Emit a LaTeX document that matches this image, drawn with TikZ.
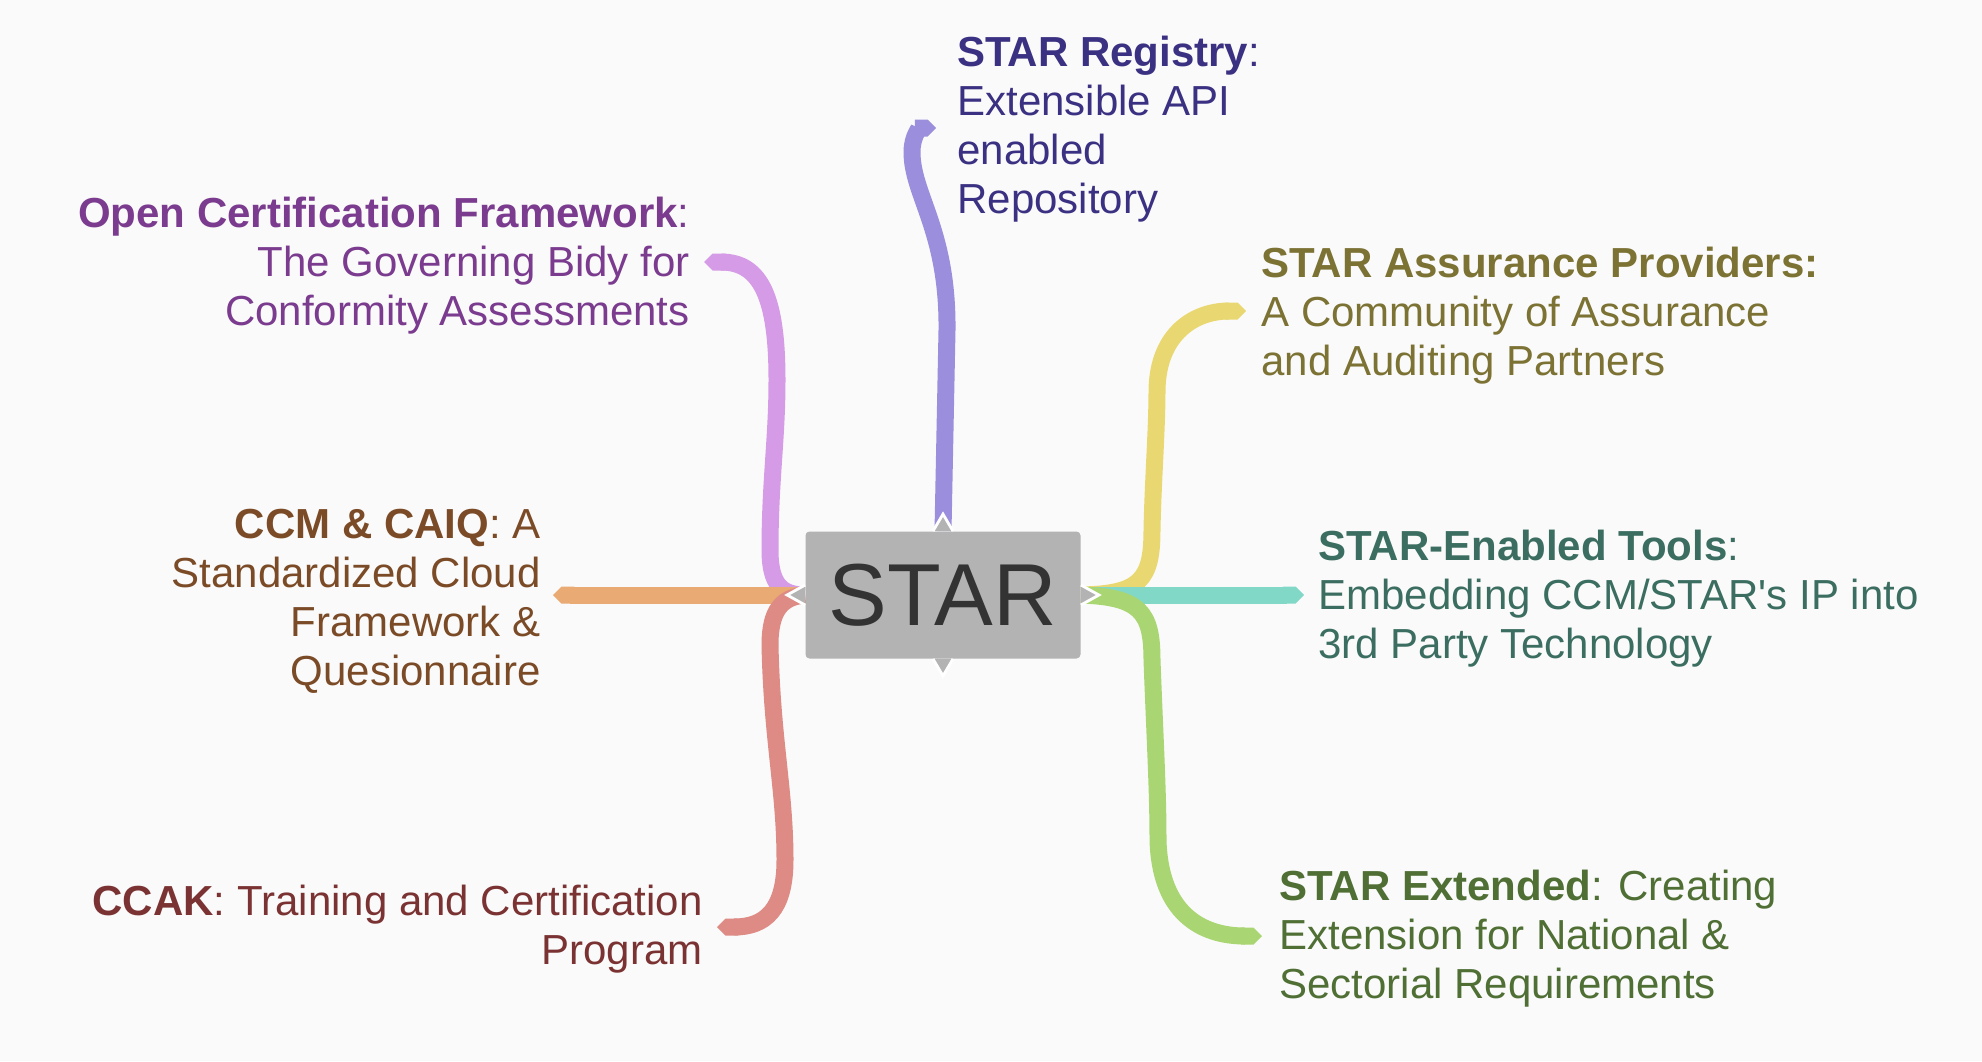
\documentclass[tikz,border=0pt]{standalone}
\usepackage{fontspec}
\setmainfont{Liberation Sans}
\usetikzlibrary{arrows.meta}
\pgfdeclarelayer{back}
\pgfsetlayers{back,main}
\definecolor{bg}{HTML}{FAFAFA}
\definecolor{boxgray}{HTML}{B3B3B3}
\definecolor{startx}{HTML}{333333}
\definecolor{regtx}{HTML}{3B3182}
\definecolor{ocftx}{HTML}{7B3B8F}
\definecolor{ccmtx}{HTML}{7B4B27}
\definecolor{ccaktx}{HTML}{7A3232}
\definecolor{saptx}{HTML}{7B7233}
\definecolor{toolstx}{HTML}{3B6E60}
\definecolor{exttx}{HTML}{4F6F35}
\definecolor{regbr}{HTML}{9B8FDD}
\definecolor{ocfbr}{HTML}{D69BE6}
\definecolor{ccmbr}{HTML}{E9AA74}
\definecolor{ccakbr}{HTML}{DD8B84}
\definecolor{sapbr}{HTML}{E9D872}
\definecolor{toolsbr}{HTML}{82D8C6}
\definecolor{extbr}{HTML}{A9D672}
\tikzset{
  branch/.style={line width=8.5pt, draw=#1, -{Triangle Cap[]}},
  lbl/.style={inner sep=0pt, font=\fontsize{21}{24.5}\selectfont},
  notch/.style={fill=boxgray, draw=white, line width=1.4pt},
}
\begin{document}
\begin{tikzpicture}[x=0.5pt,y=-0.5pt]
\begin{pgfonlayer}{back}
\fill[bg] (0,0) rectangle (1982,1061);
\end{pgfonlayer}

\node[fill=boxgray, rounded corners=2pt, inner sep=0pt, minimum width=137.5pt, minimum height=63.5pt,
  text=startx, font=\fontsize{44}{44}\selectfont] (star) at (943,595) {STAR};

\node[lbl, text=regtx, anchor=north west, align=left] (reg) at (957,36)
  {\textbf{STAR Registry}:\\Extensible API\\enabled\\Repository};
\node[lbl, text=ocftx, anchor=north east, align=right] (ocf) at (690,197)
  {\textbf{Open Certification Framework}:\\The Governing Bidy for\\Conformity Assessments};
\node[lbl, text=ccmtx, anchor=north east, align=right] (ccm) at (541,509)
  {\textbf{CCM \& CAIQ}: A\\Standardized Cloud\\Framework \&\\Quesionnaire};
\node[lbl, text=ccaktx, anchor=north east, align=right] (ccak) at (703,885)
  {\textbf{CCAK}: Training and Certification\\Program};
\node[lbl, text=saptx, anchor=north west, align=left] (sap) at (1261,247)
  {\textbf{STAR Assurance Providers:}\\A Community of Assurance\\and Auditing Partners};
\node[lbl, text=toolstx, anchor=north west, align=left] (tools) at (1318,530)
  {\textbf{STAR-Enabled Tools}:\\Embedding CCM/STAR{\addfontfeatures{Ligatures=TeXOff}'}s IP into\\3rd Party Technology};
\node[lbl, text=exttx, anchor=north west, align=left] (ext) at (1279,870)
  {\textbf{STAR Extended}: Creating\\Extension for National \&\\Sectorial Requirements};

\coordinate (reg-e) at (936,128);
\coordinate (ocf-e) at (704,262);
\coordinate (ccm-e) at (553,595);
\coordinate (ccak-e) at (717,927);
\coordinate (sap-e) at (1246,311);
\coordinate (tools-e) at (1304,595);
\coordinate (ext-e) at (1262,936);

\begin{pgfonlayer}{back}
\draw[branch=regbr] (star.north) -- (947,330) .. controls (948,230) and (912,195) .. (912,152)
  .. controls (912,136) and (920,128) .. (reg-e);
\draw[branch=ocfbr] (star.west) .. controls (782,595) and (770,585) .. (770,550)
  .. controls (770,480) and (777,440) .. (777,380) .. controls (777,300) and (762,262) .. (ocf-e);
\draw[branch=ccmbr] (star.west) -- (ccm-e);
\draw[branch=ccakbr] (star.west) .. controls (782,597) and (770,610) .. (770,645)
  .. controls (772,740) and (785,790) .. (785,860) .. controls (785,910) and (765,927) .. (ccak-e);
\draw[branch=sapbr] (star.east) .. controls (1140,594) and (1152,580) .. (1152,530)
  .. controls (1153,480) and (1157,430) .. (1157,390) .. controls (1158,333) and (1195,311) .. (sap-e);
\draw[branch=toolsbr] (star.east) -- (tools-e);
\draw[branch=extbr] (star.east) .. controls (1140,597) and (1152,612) .. (1152,660)
  .. controls (1155,740) and (1158,790) .. (1158,840) .. controls (1160,912) and (1200,936) .. (ext-e);
\end{pgfonlayer}

\foreach \a/\p/\t/\q in {north/{-5pt,0}/{0,8.5pt}/{5pt,0}, south/{-5pt,0}/{0,-8.5pt}/{5pt,0},
  west/{0,5pt}/{-9pt,0}/{0,-5pt}, east/{0,5pt}/{9pt,0}/{0,-5pt}}
  \filldraw[notch] ([shift={(\p)}]star.\a) -- ([shift={(\t)}]star.\a) -- ([shift={(\q)}]star.\a);

\end{tikzpicture}
\end{document}
